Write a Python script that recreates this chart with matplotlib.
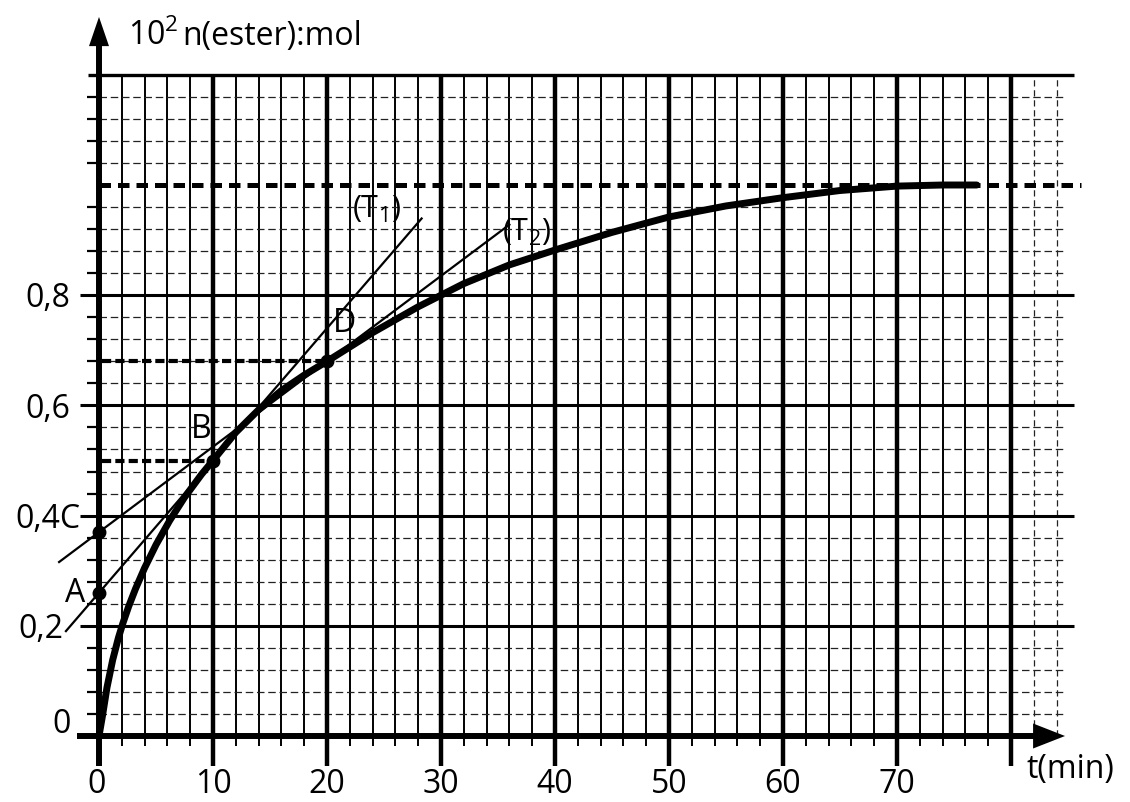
import numpy as np
import matplotlib
matplotlib.use("Agg")
import matplotlib.pyplot as plt

plt.rcParams['font.family'] = ['Open Sans', 'DejaVu Sans']
plt.rcParams['mathtext.fontset'] = 'custom'
plt.rcParams['mathtext.rm'] = 'Open Sans'

# ---- data ----
t_curve = [0, 0.3, 0.7, 1.2, 1.7, 2.1, 2.6, 3.2, 4, 5, 6.2, 7.5, 9, 10, 12, 14,
           16, 18, 20, 24, 28, 32, 36, 40, 45, 50, 55, 60, 65, 70, 74, 77]
n_curve = [0, 0.036, 0.088, 0.138, 0.178, 0.205, 0.235, 0.267, 0.305, 0.347,
           0.391, 0.433, 0.475, 0.5, 0.551, 0.592, 0.627, 0.655, 0.68, 0.732,
           0.779, 0.821, 0.855, 0.882, 0.914, 0.942, 0.962, 0.977, 0.99, 0.998,
           1.0, 1.0]

point_names = ['A', 'B', 'C', 'D']
point_t = [0, 10, 0, 20]
point_n = [0.26, 0.5, 0.37, 0.68]

asymptote_n = 1.0

x_tick_values = [0, 10, 20, 30, 40, 50, 60, 70]
x_tick_labels = ['0', '10', '20', '30', '40', '50', '60', '70']
y_tick_values = [0, 0.2, 0.4, 0.6, 0.8]
y_tick_labels = ['0', '0,2', '0,4', '0,6', '0,8']

t1_span = [-2.9, 28.3]   # tangent (T1) through A and B
t2_span = [-3.5, 36.0]   # tangent (T2) through C and D

# ---- figure ----
PX_T = 11.4   # pixels per minute
PX_N = 551.0  # pixels per unit
fig = plt.figure(figsize=(11.3, 8.03), dpi=100)
ax = fig.add_axes([0, 0, 1, 1])
ax.set_xlim(-99 / PX_T, (1130 - 99) / PX_T)
ax.set_ylim(-66 / PX_N, 737 / PX_N)
ax.axis('off')

K = 'black'
top = 1.2
minor_t = [t for t in np.arange(2, 80, 2) if t % 10 != 0]
major_t = np.arange(10, 81, 10)
extra_t = [82, 84]
minor_n = [round(0.04 * k, 2) for k in range(1, 30) if k % 5 != 0]
major_n = [0.2, 0.4, 0.6, 0.8]

# minor vertical lines (solid thin, with ticks under the axis)
ax.vlines(minor_t, -0.018, top, colors=K, lw=1.4, zorder=1)
ax.vlines(extra_t, 0, top, colors='#222222', lw=0.9, linestyles=(0, (5, 3)), zorder=1)
# major vertical lines
ax.vlines(major_t, -0.0544, top, colors=K, lw=3.2, zorder=2)
# minor horizontal lines dashed
ax.hlines(minor_n, 0, 84.8, colors='#222222', lw=0.9, linestyles=(0, (6, 3)), zorder=1)
ax.hlines(minor_n, -1.05, 0, colors=K, lw=1.6, zorder=2)
# major horizontal lines
ax.hlines(major_n, -1.67, 85.5, colors=K, lw=2.2, zorder=2)
ax.hlines([top], -0.96, 85.5, colors=K, lw=2.4, zorder=2)
# asymptote
ax.plot([0, 86.1], [asymptote_n, asymptote_n], color=K, lw=3.6,
        dashes=(2.3, 1.4), zorder=3, solid_capstyle='butt')

# tangents
a_t, b_t, c_t, d_t = point_t
a_n, b_n, c_n, d_n = point_n
s1 = (b_n - a_n) / (b_t - a_t)
s2 = (d_n - c_n) / (d_t - c_t)
t1x = np.array(t1_span)
t2x = np.array(t2_span)
ax.plot(t1x, a_n + s1 * (t1x - a_t), color=K, lw=1.6, zorder=4)
ax.plot(t2x, c_n + s2 * (t2x - c_t), color=K, lw=1.6, zorder=4)

# curve
ax.plot(t_curve, n_curve, color=K, lw=5.0, zorder=5, solid_joinstyle='round',
        solid_capstyle='round')

# dashed projections of B and D
ax.plot([0.3, b_t], [b_n, b_n], color=K, lw=3.0, dashes=(2.2, 1.0), zorder=4)
ax.plot([0.3, d_t], [d_n, d_n], color=K, lw=3.0, dashes=(2.2, 1.0), zorder=4)

# points
ax.plot(point_t, point_n, 'o', color=K, ms=9, zorder=7)

# axes with arrows
ax.plot([0, 0], [-0.0544, 1.27], color=K, lw=4.3, zorder=6, solid_capstyle='butt')
ax.annotate('', xy=(0, 1.305), xytext=(0, 1.2),
            arrowprops=dict(arrowstyle='-|>,head_length=2.1,head_width=0.72',
                            mutation_scale=10, lw=0, fc=K, ec=K,
                            shrinkA=0, shrinkB=0), zorder=6)
ax.plot([-1.93, 83.0], [0, 0], color=K, lw=4.3, zorder=6, solid_capstyle='butt')
ax.annotate('', xy=(84.74, 0), xytext=(78, 0),
            arrowprops=dict(arrowstyle='-|>,head_length=2.3,head_width=0.9',
                            mutation_scale=10, lw=0, fc=K, ec=K,
                            shrinkA=0, shrinkB=0), zorder=6)

FS = 23
HALF = 0.0205  # half digit height, data units
# x tick labels
for tv, tl in zip(x_tick_values, x_tick_labels):
    ax.text(tv - (0.25 if tv == 0 else 0), -0.101, tl, ha='center', va='baseline',
            fontsize=FS, color=K)
# y tick labels
y_right = {0: -2.5, 0.2: -3.16, 0.4: -1.6, 0.6: -2.5, 0.8: -2.5}
for nv, nl in zip(y_tick_values, y_tick_labels):
    lab = nl + ('C' if nv == 0.4 else '')
    base = 0.008 if nv == 0 else nv - HALF
    ax.text(y_right[nv], base, lab, ha='right', va='baseline', fontsize=FS, color=K)

# point names (C is written with the 0,4 label)
ax.text(-2.1, 0.245, point_names[0], ha='center', va='baseline', fontsize=FS, color=K)
ax.text(9.0, 0.5426, point_names[1], ha='center', va='baseline', fontsize=FS, color=K)
ax.text(21.5, 0.735, point_names[3], ha='center', va='baseline', fontsize=FS, color=K)

# tangent names
ax.text(24.34, 0.942, r'(T$_{\mathregular{1}}$)', ha='center', va='baseline',
        fontsize=22, color=K)
ax.text(37.5, 0.90, r'(T$_{\mathregular{2}}$)', ha='center', va='baseline',
        fontsize=22, color=K)

# axis titles
ax.text(2.54, 1.256, r'10$^{\mathregular{2}}$', ha='left', va='baseline',
        fontsize=FS, color=K)
ax.text(7.3, 1.256, 'n(ester):mol', ha='left', va='baseline', fontsize=FS, color=K)
ax.text(81.4, -0.0744, 't(min)', ha='left', va='baseline', fontsize=FS, color=K)

fig.savefig('out.png', dpi=100, facecolor='white')
